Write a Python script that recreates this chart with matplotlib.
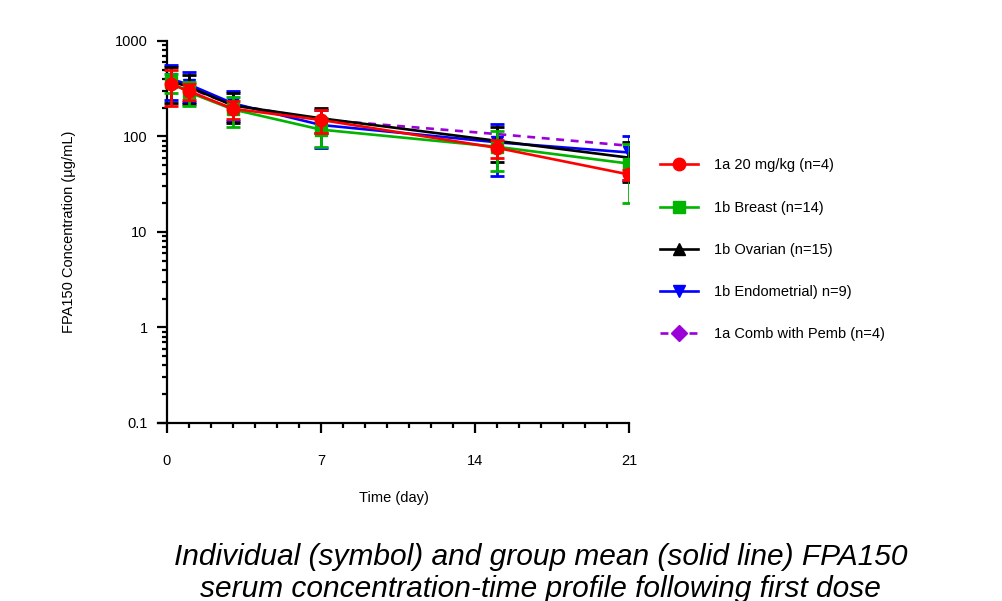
import matplotlib
matplotlib.use("Agg")
import matplotlib.pyplot as plt
from matplotlib.lines import Line2D
from matplotlib.ticker import LogLocator, MultipleLocator, FixedLocator

plt.rcParams['font.family'] = ['Liberation Sans', 'DejaVu Sans']

# time points (day) and mean +/- SD of each group
days = [0.17, 1, 3, 7, 15, 21]

red_mean = [355, 298, 195, 149, 76, 40]
red_sd = [145, 57, 43, 40, 16, 5]

green_mean = [370, 290, 192, 118, 78, 52]
green_sd = [85, 80, 66, 40, 35, 32]

black_mean = [380, 330, 211, 155, 90, 60]
black_sd = [155, 110, 73, 45, 36, 27]

blue_mean = [400, 350, 222, 132, 87, 68]
blue_sd = [160, 123, 77, 56, 48, 33]

purple_mean = [380, 320, 215, 150, 106, 80]

labels = ["1a 20 mg/kg (n=4)", "1b Breast (n=14)", "1b Ovarian (n=15)",
          "1b Endometrial) n=9)", "1a Comb with Pemb (n=4)"]

caption = ["Individual (symbol) and group mean (solid line) FPA150",
           "serum concentration-time profile following first dose"]

fig = plt.figure(figsize=(10.03, 6.01), dpi=100)
ax = fig.add_axes([0.1575, 0.2962, 0.4696, 0.6356])

lw = 1.9
ax.plot(days, purple_mean, color='#9b00d9', lw=lw, ls=(0, (3, 2.5)), zorder=2)

series = [
    (blue_mean, blue_sd, '#0000ff', 'v'),
    (black_mean, black_sd, '#000000', '^'),
    (green_mean, green_sd, '#00b400', 's'),
    (red_mean, red_sd, '#ff0000', 'o'),
]
for i, (m, sd, c, mk) in enumerate(series):
    ax.errorbar(days, m, yerr=sd, color=c, lw=lw, marker=mk, ms=9,
                capsize=5, capthick=2, elinewidth=2, zorder=3 + i)

ax.set_yscale('log')
ax.set_ylim(0.1, 1000)
ax.set_xlim(-0.41, 21)

ax.spines['top'].set_visible(False)
ax.spines['right'].set_visible(False)
ax.spines['left'].set_position(('data', 0))
ax.spines['left'].set_linewidth(1.6)
ax.spines['bottom'].set_linewidth(1.6)

ax.set_yticks([0.1, 1, 10, 100, 1000])
ax.set_yticklabels(["0.1", "1", "10", "100", "1000"])
ax.yaxis.set_minor_locator(LogLocator(base=10, subs=range(2, 10)))
ax.yaxis.set_minor_formatter(plt.NullFormatter())
ax.xaxis.set_major_locator(FixedLocator([0, 7, 14, 21]))
ax.xaxis.set_minor_locator(MultipleLocator(1))

ax.tick_params(which='major', length=7, width=1.6, labelsize=10.5)
ax.tick_params(axis='x', which='major', pad=15)
ax.tick_params(axis='y', which='major', pad=7)
ax.tick_params(which='minor', length=3.5, width=1.6)

ax.set_xlabel("Time (day)", fontsize=10.5, labelpad=17)
ax.set_ylabel("FPA150 Concentration (µg/mL)", fontsize=10.5, labelpad=28)

handles = [
    Line2D([], [], color='#ff0000', lw=lw, marker='o', ms=9),
    Line2D([], [], color='#00b400', lw=lw, marker='s', ms=9),
    Line2D([], [], color='#000000', lw=lw, marker='^', ms=9),
    Line2D([], [], color='#0000ff', lw=lw, marker='v', ms=9),
    Line2D([], [], color='#9b00d9', lw=lw, ls=(0, (3, 2.5)), marker='D', ms=8),
]
fig.legend(handles, labels, loc='upper left', bbox_to_anchor=(0.652, 0.746),
           frameon=False, fontsize=10.5, handlelength=2.6, handletextpad=1.1,
           labelspacing=1.93, borderaxespad=0)

fig.text(0.539, 0.0599, caption[0], ha='center', va='baseline',
         fontsize=21.5, style='italic')
fig.text(0.539, 0.0067, caption[1], ha='center', va='baseline',
         fontsize=21.5, style='italic')

fig.savefig("out.png", dpi=100)
